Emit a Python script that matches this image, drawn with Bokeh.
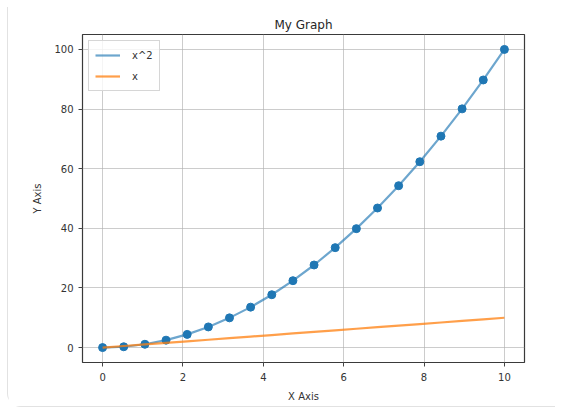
from bokeh.plotting import figure
from bokeh.embed import file_html
from bokeh.resources import INLINE
from bokeh.models import FixedTicker, Range1d

x_vals = [0.0, 0.526, 1.053, 1.579, 2.105, 2.632, 3.158, 3.684, 4.211, 4.737,
          5.263, 5.789, 6.316, 6.842, 7.368, 7.895, 8.421, 8.947, 9.474, 10.0]
y_square = [0.0, 0.28, 1.11, 2.49, 4.43, 6.93, 9.97, 13.57, 17.73, 22.44,
            27.70, 33.52, 39.89, 46.81, 54.29, 62.33, 70.91, 80.06, 89.75, 100.0]
y_linear = [0.0, 0.526, 1.053, 1.579, 2.105, 2.632, 3.158, 3.684, 4.211, 4.737,
            5.263, 5.789, 6.316, 6.842, 7.368, 7.895, 8.421, 8.947, 9.474, 10.0]
x_ticks = [0, 2, 4, 6, 8, 10]
y_ticks = [0, 20, 40, 60, 80, 100]

FONT = "DejaVu Sans"
BLUE = "#1f77b4"
ORANGE = "#ff7f0e"

p = figure(width=548, height=400, output_backend="svg", toolbar_location=None,
           x_range=Range1d(-0.5, 10.5), y_range=Range1d(-5, 105),
           min_border_left=74, min_border_right=32, min_border_top=27, min_border_bottom=45,
           title="My Graph")
p.styles = {"border-left": "1px solid #e2e2e2", "border-bottom": "1px solid #e2e2e2",
            "border-bottom-left-radius": "14px", "margin-left": "7px", "margin-top": "7px"}

p.title.align = "center"
p.title.text_font = FONT
p.title.text_font_size = "12px"
p.title.text_font_style = "normal"
p.title.text_color = "#262626"
p.title.offset = 0
p.title.standoff = 6

p.outline_line_color = "#3a3a3a"
p.outline_line_width = 1.2

p.line(x_vals, y_square, line_color=BLUE, line_width=2.2, line_alpha=0.65, legend_label="x^2")
p.scatter(x_vals, y_square, size=8, fill_color=BLUE, line_color=BLUE)
p.line(x_vals, y_linear, line_color=ORANGE, line_width=2.2, line_alpha=0.75, legend_label="x")

for ax in (p.xaxis, p.yaxis):
    ax.axis_line_color = None
    ax.major_tick_line_color = "#444444"
    ax.major_tick_out = 4
    ax.major_tick_in = 0
    ax.minor_tick_line_color = None
    ax.major_label_text_font = FONT
    ax.major_label_text_font_size = "10px"
    ax.major_label_text_color = "#333333"
    ax.axis_label_text_font = FONT
    ax.axis_label_text_font_size = "10px"
    ax.axis_label_text_font_style = "normal"
    ax.axis_label_text_color = "#333333"

p.xaxis.ticker = FixedTicker(ticks=x_ticks)
p.yaxis.ticker = FixedTicker(ticks=y_ticks)
p.xaxis.axis_label = "X Axis"
p.yaxis.axis_label = "Y Axis"
p.xaxis.major_label_standoff = 6
p.yaxis.major_label_standoff = 5
p.xaxis.axis_label_standoff = 7
p.yaxis.axis_label_standoff = 8

p.grid.grid_line_color = "#b0b0b0"
p.grid.grid_line_alpha = 0.65
p.grid.grid_line_width = 1

lg = p.legend[0]
lg.location = "top_left"
lg.label_text_font = FONT
lg.label_text_font_size = "10px"
lg.label_text_color = "#333333"
lg.border_line_color = "#d6d6d6"
lg.border_line_alpha = 1
lg.background_fill_alpha = 0.8
lg.glyph_width = 25
lg.glyph_height = 16
lg.label_height = 16
lg.spacing = 5
lg.padding = 6
lg.margin = 6
lg.label_standoff = 12

open("out.html", "w").write(file_html(p, INLINE))
